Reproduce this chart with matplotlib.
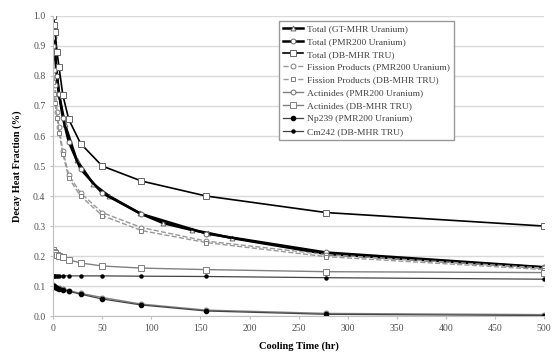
import matplotlib
matplotlib.use("Agg")
import matplotlib.pyplot as plt

plt.rcParams['font.family'] = ['Liberation Serif', 'DejaVu Serif']

# cooling time points (hr)
t = [0, 1, 2, 4, 6, 10, 16, 28, 50, 90, 156, 278, 500]
t_gt = [0, 1, 3, 6, 12, 24, 41, 57, 88, 112, 141, 158, 182, 278, 500]

total_gt = [1.0, 0.92, 0.83, 0.74, 0.64, 0.52, 0.44, 0.40, 0.343, 0.31, 0.287, 0.277, 0.26, 0.207, 0.162]
total_pmr = [1.0, 0.93, 0.88, 0.80, 0.74, 0.66, 0.58, 0.49, 0.41, 0.34, 0.275, 0.212, 0.163]
total_db = [1.0, 0.97, 0.947, 0.88, 0.83, 0.735, 0.655, 0.575, 0.50, 0.45, 0.40, 0.345, 0.30]
fp_pmr = [0.90, 0.82, 0.77, 0.68, 0.63, 0.55, 0.47, 0.41, 0.345, 0.295, 0.25, 0.205, 0.16]
fp_db = [0.78, 0.74, 0.71, 0.66, 0.61, 0.54, 0.46, 0.40, 0.335, 0.285, 0.245, 0.198, 0.155]
act_pmr = [0.105, 0.10, 0.098, 0.095, 0.093, 0.09, 0.085, 0.076, 0.062, 0.04, 0.02, 0.009, 0.005]
act_db = [0.22, 0.215, 0.21, 0.205, 0.20, 0.196, 0.188, 0.177, 0.167, 0.16, 0.155, 0.148, 0.145]
np239 = [0.102, 0.099, 0.097, 0.094, 0.091, 0.088, 0.083, 0.073, 0.057, 0.037, 0.017, 0.006, 0.002]
cm242 = [0.135, 0.135, 0.135, 0.135, 0.135, 0.135, 0.134, 0.134, 0.134, 0.133, 0.132, 0.128, 0.123]

series = [
    (t_gt, total_gt, "Total (GT-MHR Uranium)", dict(color='black', lw=1.8, marker='^', ms=3.5, mfc='white', mec='#666666', mew=0.7)),
    (t, total_pmr, "Total (PMR200 Uranium)", dict(color='black', lw=1.8, marker='o', ms=3.5, mfc='white', mec='#666666', mew=0.7)),
    (t, total_db, "Total (DB-MHR TRU)", dict(color='black', lw=1.2, marker='s', ms=4, mfc='white', mec='#666666', mew=0.7)),
    (t, fp_pmr, "Fission Products (PMR200 Uranium)", dict(color='#999999', lw=1.0, ls='--', marker='o', ms=3.5, mfc='white', mec='#808080', mew=0.7)),
    (t, fp_db, "Fission Products (DB-MHR TRU)", dict(color='#999999', lw=1.0, ls='--', marker='s', ms=3.5, mfc='white', mec='#808080', mew=0.7)),
    (t, act_pmr, "Actinides (PMR200 Uranium)", dict(color='#808080', lw=1.0, marker='o', ms=3.5, mfc='white', mec='#707070', mew=0.7)),
    (t, act_db, "Actinides (DB-MHR TRU)", dict(color='#808080', lw=1.0, marker='s', ms=4, mfc='white', mec='#808080', mew=0.7)),
    (t, np239, "Np239 (PMR200 Uranium)", dict(color='#444444', lw=0.9, marker='o', ms=3, mfc='black', mec='black')),
    (t, cm242, "Cm242 (DB-MHR TRU)", dict(color='#444444', lw=0.9, marker='o', ms=2.2, mfc='black', mec='black')),
]

fig = plt.figure(figsize=(5.53, 3.54), dpi=100)
ax = fig.add_axes([0.096, 0.107, 0.888, 0.848])

for x, y, label, style in series:
    ax.plot(x, y, label=label, **style)

ax.set_xlim(0, 500)
ax.set_ylim(0, 1.0)
ax.set_xticks(range(0, 501, 50))
ax.set_yticks([i / 10 for i in range(11)])
ax.yaxis.set_major_formatter(matplotlib.ticker.FormatStrFormatter('%.1f'))
ax.grid(axis='y', color='#d9d9d9', lw=1.0)
ax.set_axisbelow(True)
for s in ['top', 'right']:
    ax.spines[s].set_visible(False)
for s in ['left', 'bottom']:
    ax.spines[s].set_color('#bfbfbf')
ax.tick_params(labelsize=7, colors='#505050', length=2, color='#bfbfbf')

ax.set_xlabel("Cooling Time (hr)", fontsize=7.5, fontweight='bold', labelpad=6)
ax.set_ylabel("Decay Heat Fraction (%)", fontsize=7.5, fontweight='bold', labelpad=8)

leg = ax.legend(loc='upper left', bbox_to_anchor=(0.45, 1.0), fontsize=6.8,
                fancybox=False, framealpha=1, edgecolor='#999999',
                handlelength=2.2, handletextpad=0.4, labelspacing=0.45,
                borderpad=0.4)
for txt in leg.get_texts():
    txt.set_color('#404040')

fig.savefig("out.png", dpi=100)
